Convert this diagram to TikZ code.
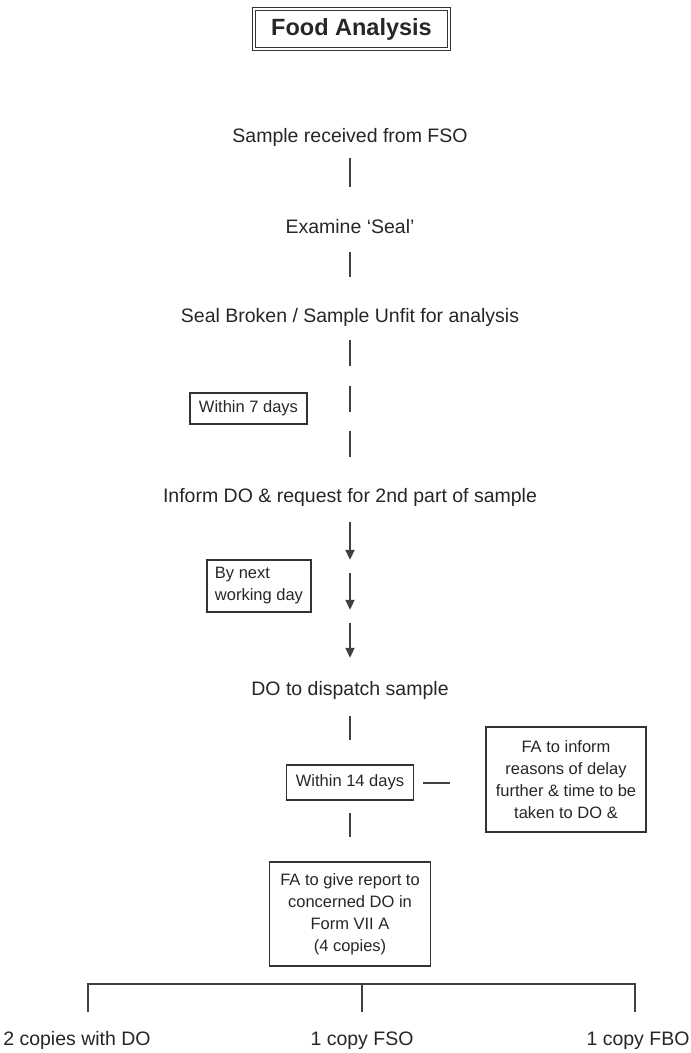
\documentclass[tikz,border=0pt]{standalone}
\usepackage{fontspec}
\setmainfont{Liberation Sans}
\usetikzlibrary{arrows.meta}

\begin{document}
\begin{tikzpicture}[x=1pt, y=-1pt,
        stage/.style={inner sep=0pt, text height=14pt, text depth=4pt,
            font=\fontsize{19.5}{22}\selectfont, text=black!85},
        note/.style={draw=black!80, line width=1.6pt, inner sep=0pt,
            font=\fontsize{16.5}{22}\selectfont, text=black!85},
        link/.style={draw=black!75, line width=2pt},
        flow/.style={link, -{Triangle[length=10pt, width=9pt]}}]
        \useasboundingbox (0,0) rectangle (691,1053);

        % title
        \node[draw=black!80, line width=1pt, double=white, double distance=1.2pt,
            minimum width=195pt, minimum height=40pt,
            font=\bfseries\fontsize{23.5}{28}\selectfont, text=black!85] (title) at (351.5,29) {Food Analysis};

        % steps down the middle
        \node[stage] (received) at (350,137) {Sample received from FSO};
        \node[stage] (examine) at (350,228) {Examine ‘Seal’};
        \node[stage] (broken) at (350,317) {Seal Broken / Sample Unfit for analysis};
        \node[stage] (inform) at (350,497) {Inform DO \& request for 2nd part of sample};
        \node[stage] (dispatch) at (350,690) {DO to dispatch sample};

        % time limits
        \node[note, minimum width=117pt, minimum height=31pt] (seven) at (248.5,408.5) {Within 7 days};
        \node[note, minimum width=104pt, minimum height=52pt, align=left] (nextday) at (259,586) {By next\\working day};
        \node[note, minimum width=127pt, minimum height=35pt] (fourteen) at (350,782.5) {Within 14 days};
        \node[note, minimum width=160pt, minimum height=105pt, align=center] (delay) at (566,779.5)
            {FA to inform\\reasons of delay\\further \& time to be\\taken to DO \&};
        \node[note, minimum width=161pt, minimum height=104pt, align=center] (report) at (350,914)
            {FA to give report to\\concerned DO in\\Form VII A\\(4 copies)};

        % links
        \draw[link, shorten <=12pt, shorten >=32pt] (received.south) -- (examine.north);
        \draw[link, shorten <=15pt, shorten >=31pt] (examine.south) -- (broken.north);
        \draw[link, dash pattern=on 26pt off 19.5pt, shorten <=14pt, shorten >=31pt] (broken.south) -- (inform.north);
        \draw[flow, shorten <=16pt, shorten >=121pt] (inform.south) -- (dispatch.north);
        \draw[flow, shorten <=67pt, shorten >=71pt] (inform.south) -- (dispatch.north);
        \draw[flow, shorten <=117pt, shorten >=23pt] (inform.south) -- (dispatch.north);
        \draw[link, shorten <=17pt, shorten >=24pt] (dispatch.south) -- (fourteen.north);
        \draw[link, shorten <=12pt, shorten >=24pt] (fourteen.south) -- (report.north);
        \draw[link, shorten <=9pt, shorten >=35pt] (fourteen.east) -- (fourteen.east -| delay.west);

        % copies
        \coordinate (brL) at (88,984);
        \coordinate (brC) at (362,984);
        \coordinate (brR) at (635,984);
        \node[stage] (copyDO) at (77,1040) {2 copies with DO};
        \node[stage] (copyFSO) at (362,1040) {1 copy FSO};
        \node[stage] (copyFBO) at (638,1040) {1 copy FBO};
        \draw[link, shorten <=19pt, shorten >=19pt] (brL |- copyDO.north) -- (brL) -- (brR) -- (brR |- copyFBO.north);
        \draw[link, shorten <=19pt] (brC |- copyFSO.north) -- (brC);
    \end{tikzpicture}
\end{document}
